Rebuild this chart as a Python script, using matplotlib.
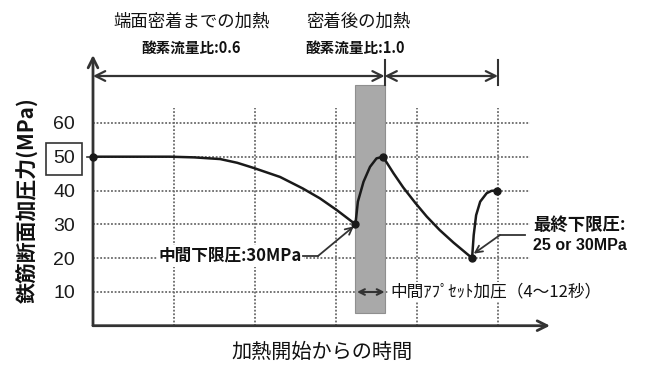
import matplotlib
matplotlib.use("Agg")
import matplotlib.pyplot as plt
from matplotlib.patches import Rectangle

plt.rcParams['font.family'] = ['Noto Sans CJK JP', 'DejaVu Sans']

# ---- data ----
# time axis in grid units (one vertical grid line per unit), pressure in MPa
seg1_x = [0.0, 0.95, 1.25, 1.57, 1.78, 1.98, 2.31, 2.59, 2.80, 3.01, 3.24]
seg1_y = [50, 50, 49.8, 49.3, 48.2, 46.7, 44.0, 40.6, 37.7, 34.2, 30]
seg2_x = [3.24, 3.27, 3.34, 3.42, 3.50, 3.58]
seg2_y = [30, 36.7, 42.6, 47.0, 49.5, 50]
seg3_x = [3.58, 3.71, 3.83, 3.98, 4.12, 4.28, 4.45, 4.59, 4.68]
seg3_y = [50, 45.1, 40.9, 36.3, 32.3, 28.3, 24.6, 21.8, 20]
seg4_x = [4.68, 4.70, 4.73, 4.78, 4.86, 4.92, 4.99]
seg4_y = [20, 26.8, 32.7, 36.7, 39.2, 39.9, 40]
key_x = [0.0, 3.24, 3.58, 4.68, 4.99]
key_y = [50, 30, 50, 20, 40]

band_start, band_end = 3.24, 3.6
yticks = [10, 20, 30, 40, 50, 60]
ytick_labels = ['10', '20', '30', '40', '50', '60']
vgrid = [1, 2, 3, 4, 5]

W, H = 645, 367
fig = plt.figure(figsize=(W / 100, H / 100), dpi=100)
fig.patch.set_facecolor('white')

X0, SX = 93, 81.0
Y0, SY = 325.7, 3.38
xmax = (550 - X0) / SX
ymax = (Y0 - 55) / SY
ax = fig.add_axes([X0 / W, (H - Y0) / H, (550 - X0) / W, (Y0 - 55) / H])
ax.set_xlim(0, xmax)
ax.set_ylim(0, ymax)
for s in ax.spines.values():
    s.set_visible(False)
ax.set_xticks([])
ax.set_yticks(yticks)
ax.set_yticklabels(ytick_labels, family=['Liberation Sans', 'DejaVu Sans'], fontsize=14)
ax.tick_params(axis='y', length=0, pad=13, colors='#1a1a1a')
lab50 = ax.get_yticklabels()[4]
lab50.set_bbox(dict(boxstyle='square,pad=0.38', fc='white', ec='#333333', lw=1.2))

gc = '#6a6a6a'
grid_top = (Y0 - 108) / SY
grid_right = (530 - X0) / SX
for yv in yticks:
    ax.plot([0, grid_right], [yv, yv], color=gc, lw=1.3, ls=(0, (1, 1)), zorder=1)
for xv in vgrid:
    ax.plot([xv, xv], [0, grid_top], color=gc, lw=1.3, ls=(0, (1, 1)), zorder=1)

# grey band
band_bot = (Y0 - 313) / SY
band_top = (Y0 - 85) / SY
ax.add_patch(Rectangle((band_start, band_bot), band_end - band_start, band_top - band_bot,
                       fc='#a9a9a9', ec='#8f8f8f', lw=0.8, zorder=2))

# axes with arrows
akw = dict(arrowstyle='->,head_length=0.7,head_width=0.35', color='#333333', lw=2,
           shrinkA=0, shrinkB=0)
ax.annotate('', xy=(0, ymax), xytext=(0, 0), arrowprops=akw, annotation_clip=False, zorder=5)
ax.annotate('', xy=(xmax, 0), xytext=(0, 0), arrowprops=akw, annotation_clip=False, zorder=5)

# top interval arrows
ya = (Y0 - 76) / SY
dkw = dict(arrowstyle='<->,head_length=0.7,head_width=0.35', color='#333333', lw=1.6,
           shrinkA=0, shrinkB=0)
ax.annotate('', xy=(band_end, ya), xytext=(0, ya), arrowprops=dkw, annotation_clip=False)
ax.annotate('', xy=(5.0, ya), xytext=(band_end, ya), arrowprops=dkw, annotation_clip=False)
bar_top = (Y0 - 60) / SY
ax.plot([band_end, band_end], [band_top, bar_top], color='#333333', lw=1.5, clip_on=False)
ax.plot([5.0, 5.0], [band_top, bar_top], color='#333333', lw=1.5, clip_on=False)

# curve
for sx, sy in [(seg1_x, seg1_y), (seg2_x, seg2_y), (seg3_x, seg3_y), (seg4_x, seg4_y)]:
    ax.plot(sx, sy, color='#1a1a1a', lw=1.8, zorder=4, solid_capstyle='round',
            solid_joinstyle='round')
ax.plot(key_x, key_y, 'o', color='#1a1a1a', ms=5, zorder=6, clip_on=False)
ax.plot([-0.07, 0], [50, 50], color='#333333', lw=1.2, clip_on=False)

# annotations
tcol = '#111111'
bb = dict(boxstyle='square,pad=0.1', fc='white', ec='none')
y1 = (Y0 - 256) / SY
ax.text((302 - X0) / SX, y1, '中間下限圧:30MPa', ha='right', va='center', fontsize=12,
        fontweight='bold', color=tcol, bbox=bb, zorder=3)
ax.plot([(303 - X0) / SX, (318 - X0) / SX], [y1, y1], color='#333333', lw=1.3, zorder=4)
ax.annotate('', xy=(3.22, 29.4), xytext=((318 - X0) / SX, y1),
            arrowprops=dict(arrowstyle='->,head_length=0.5,head_width=0.25', color='#333333',
                            lw=1.3, shrinkA=0, shrinkB=0), zorder=4)

y2 = (Y0 - 235) / SY
ax.plot([(525 - X0) / SX, (500 - X0) / SX], [y2, y2], color='#333333', lw=1.3, zorder=4)
ax.annotate('', xy=(4.70, 21.3), xytext=((500 - X0) / SX, y2),
            arrowprops=dict(arrowstyle='->,head_length=0.5,head_width=0.25', color='#333333',
                            lw=1.3, shrinkA=0, shrinkB=0), zorder=4)
fig.text(533 / W, 1 - 225 / H, '最終下限圧:', ha='left', va='center', fontsize=12.5,
         fontweight='bold', color=tcol)
fig.text(533 / W, 1 - 246 / H, '25 or 30MPa', ha='left', va='center', fontsize=11.5,
         color=tcol, fontweight='bold', family=['Liberation Sans', 'DejaVu Sans'])

y3 = (Y0 - 292) / SY
ax.annotate('', xy=(band_end, y3), xytext=((357 - X0) / SX, y3),
            arrowprops=dict(arrowstyle='<->,head_length=0.4,head_width=0.2', color='#333333',
                            lw=1.5, shrinkA=0, shrinkB=0), zorder=4)
ax.text((390 - X0) / SX, y3, '中間ｱﾌﾟｾｯﾄ加圧（4～12秒）', ha='left', va='center', fontsize=12,
        color=tcol, bbox=bb, zorder=3)

# titles and axis labels
fig.text(192 / W, 1 - 22 / H, '端面密着までの加熱', ha='center', va='center', fontsize=12.5, color=tcol)
fig.text(191 / W, 1 - 48 / H, '酸素流量比:0.6', ha='center', va='center', fontsize=10.5,
         fontweight='bold', color=tcol)
fig.text(358 / W, 1 - 22 / H, '密着後の加熱', ha='center', va='center', fontsize=12.5, color=tcol)
fig.text(355 / W, 1 - 48 / H, '酸素流量比:1.0', ha='center', va='center', fontsize=10.5,
         fontweight='bold', color=tcol)
fig.text(28 / W, 1 - 200 / H, '鉄筋断面加圧力(MPa)', ha='center', va='center', rotation=90,
         fontsize=15, fontweight='bold', color=tcol)
fig.text(322 / W, 1 - 352 / H, '加熱開始からの時間', ha='center', va='center', fontsize=14.5, color=tcol)

fig.savefig('out.png', dpi=100, facecolor='white')
